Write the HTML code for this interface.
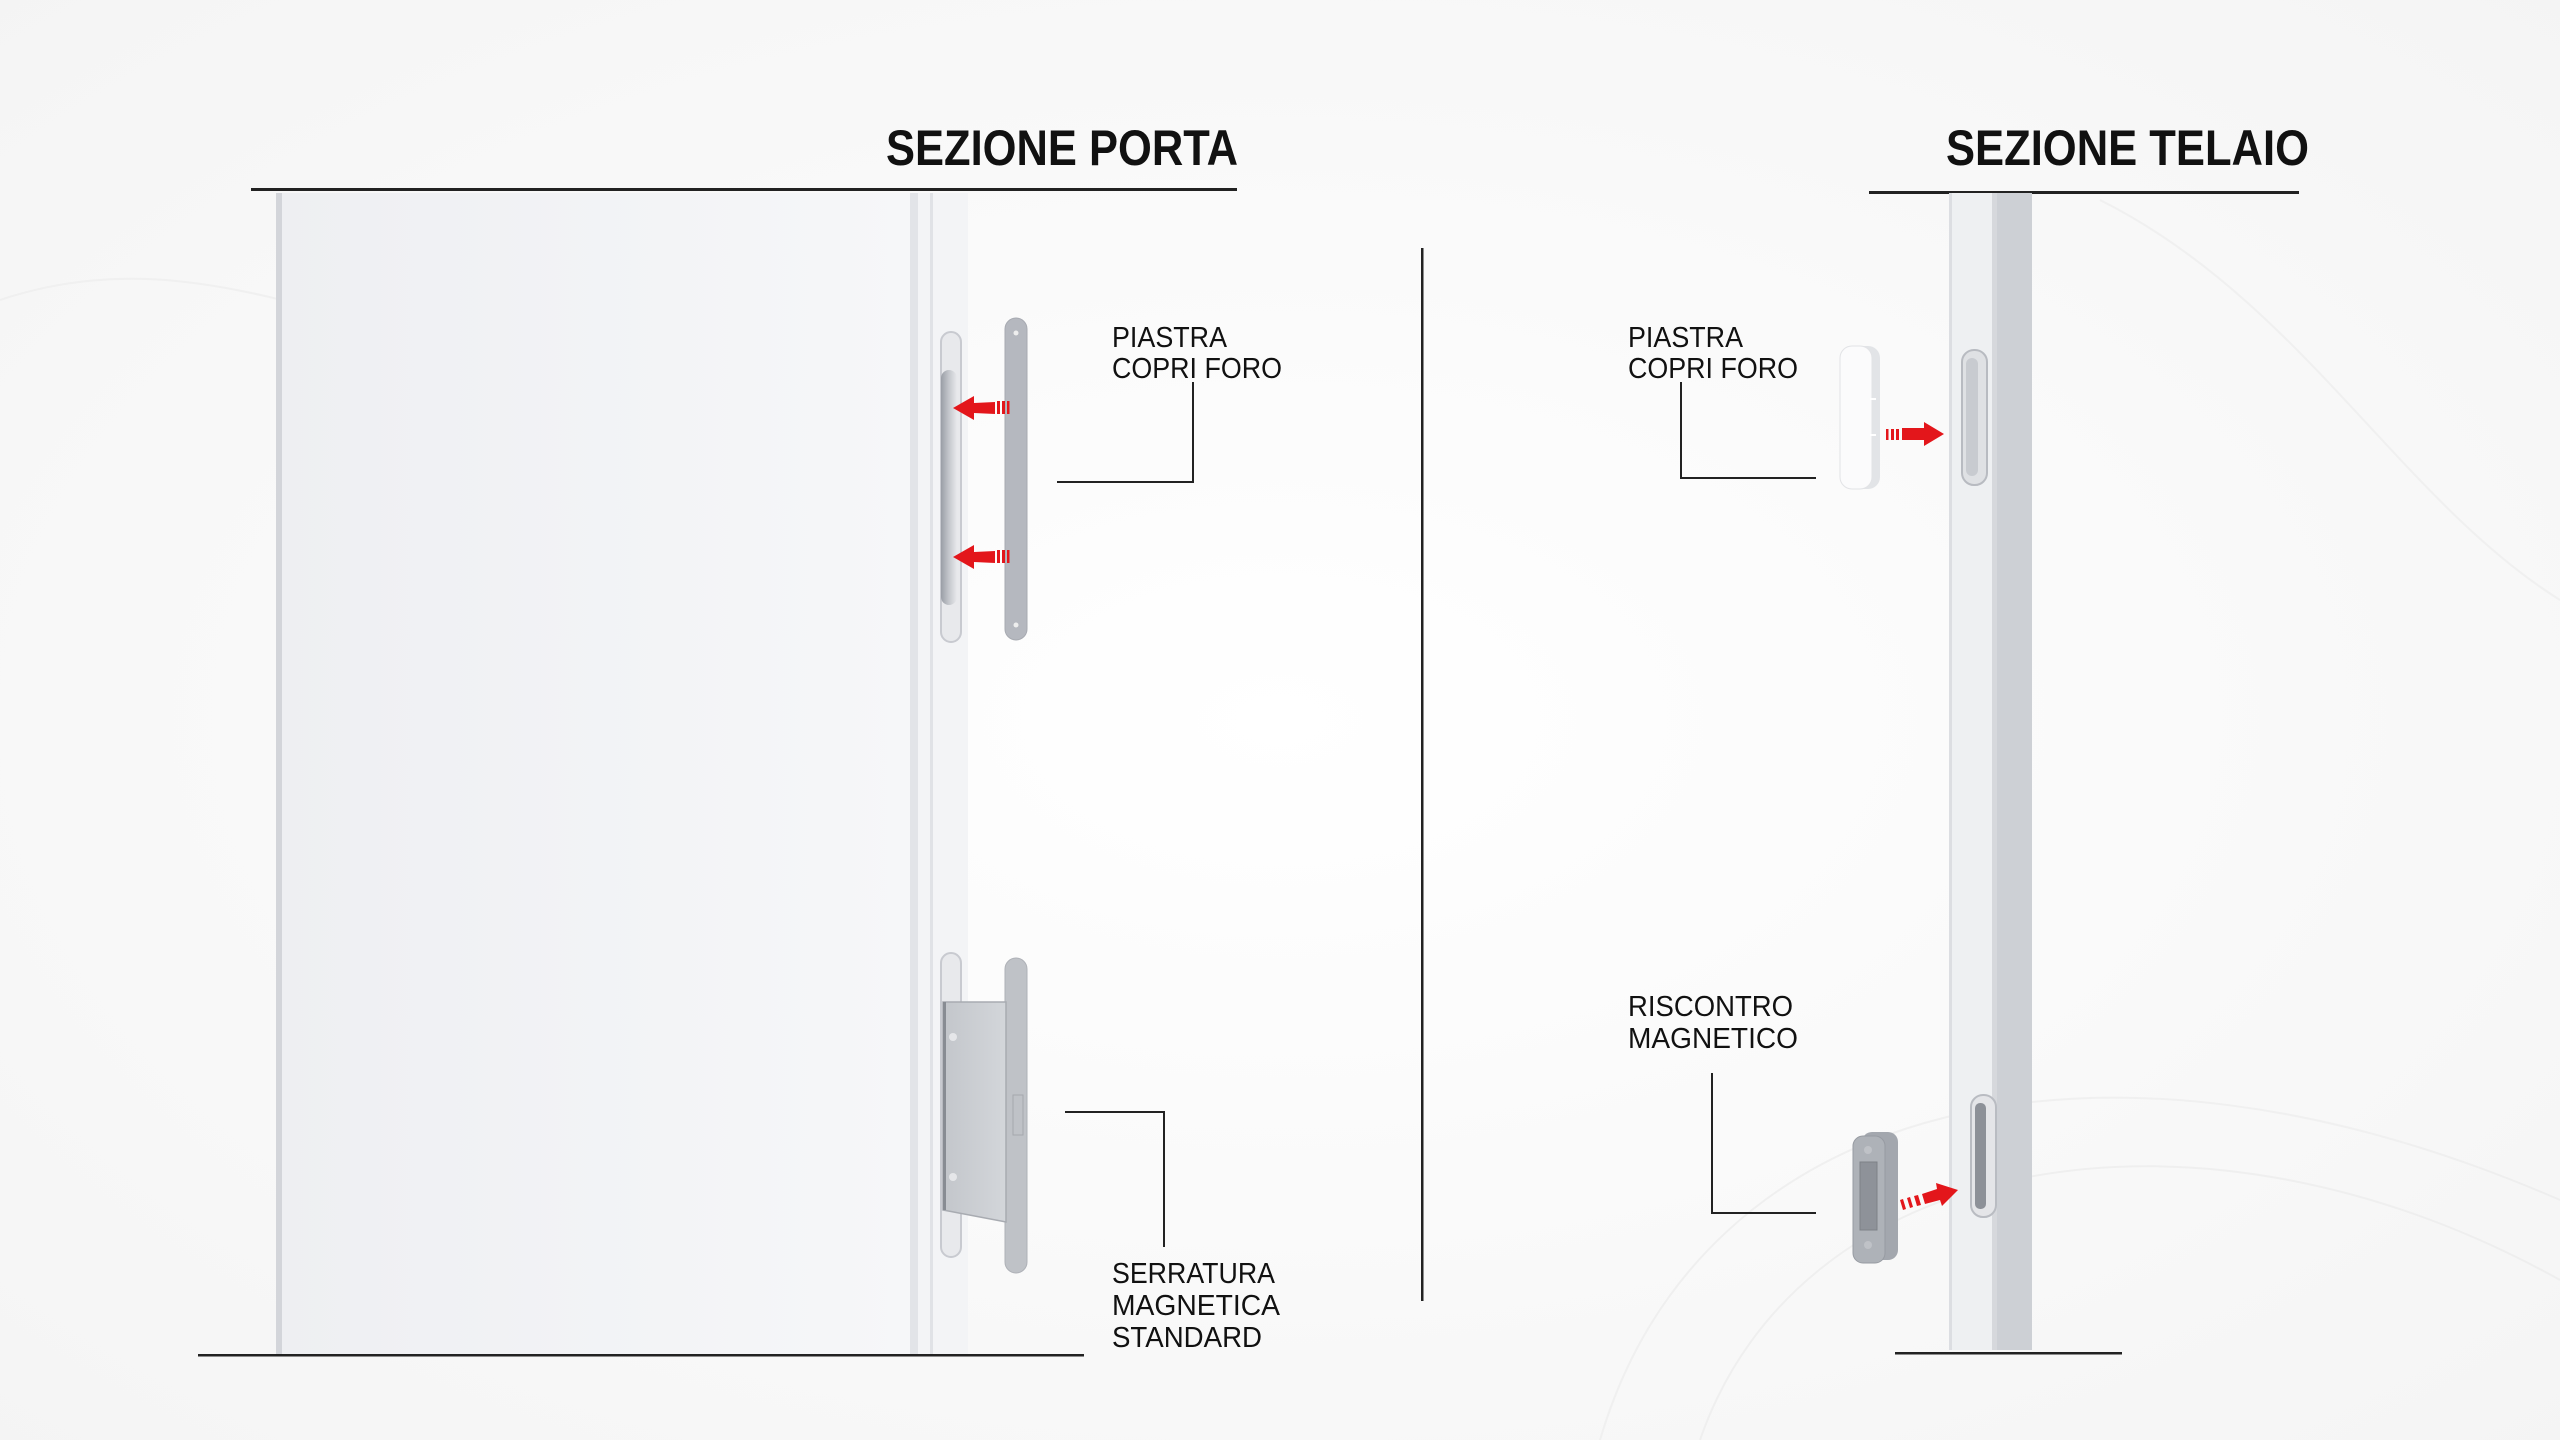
<!DOCTYPE html>
<html><head><meta charset="utf-8"><style>
html,body{margin:0;padding:0;background:#fafafa;}
svg{display:block}
text{font-family:"Liberation Sans",sans-serif;fill:#111;}
</style></head><body>
<svg width="2560" height="1440" viewBox="0 0 2560 1440" xmlns="http://www.w3.org/2000/svg">
<defs>
<radialGradient id="bg" cx="0.5" cy="0.5" r="0.8"><stop offset="0" stop-color="#ffffff"/><stop offset="1" stop-color="#f3f3f3"/></radialGradient>
<linearGradient id="door" x1="0" x2="1"><stop offset="0" stop-color="#eeeff2"/><stop offset="1" stop-color="#f6f7f9"/></linearGradient>
<linearGradient id="slotg" x1="0" x2="1"><stop offset="0" stop-color="#9a9ea6"/><stop offset="0.5" stop-color="#c4c7cc"/><stop offset="1" stop-color="#e8e9ec"/></linearGradient>
<linearGradient id="box" x1="0" x2="1"><stop offset="0" stop-color="#c3c6cb"/><stop offset="1" stop-color="#d3d6da"/></linearGradient>
</defs>
<rect width="2560" height="1440" fill="url(#bg)"/>
<g fill="none" stroke="#ececec" stroke-width="2" opacity="0.7">
<path d="M0 300 C300 200 500 500 800 250"/>
<path d="M1600 1440 C1700 1100 2100 1000 2560 1200"/>
<path d="M1700 1440 C1800 1150 2200 1080 2560 1280"/>
<path d="M2100 200 C2300 300 2400 500 2560 600"/>
</g>

<!-- Titles -->
<text x="886" y="165" font-size="50" font-weight="bold" textLength="352" lengthAdjust="spacingAndGlyphs">SEZIONE PORTA</text>
<text x="1946" y="165" font-size="50" font-weight="bold" textLength="363" lengthAdjust="spacingAndGlyphs">SEZIONE TELAIO</text>
<rect x="251" y="188" width="986" height="3" fill="#222"/>
<rect x="1869" y="191" width="430" height="3" fill="#222"/>

<!-- Door -->
<rect x="276" y="193" width="634" height="1162" fill="url(#door)"/>
<rect x="276" y="193" width="6" height="1162" fill="#d3d5da"/>
<rect x="910" y="193" width="58" height="1162" fill="#f3f4f6"/>
<rect x="910" y="193" width="8" height="1162" fill="#e2e4e8"/>
<rect x="930" y="193" width="3" height="1162" fill="#e0e2e6"/>
<rect x="198" y="1354" width="886" height="2.5" fill="#222"/>

<!-- Top slot door -->
<rect x="941" y="332" width="20" height="310" rx="10" fill="#e8e9ec" stroke="#c8cad0" stroke-width="2"/>
<rect x="941" y="370" width="16" height="235" rx="8" fill="url(#slotg)"/>
<rect x="1005" y="318" width="22" height="322" rx="11" fill="#b5b8bf" stroke="#a7aab1" stroke-width="1"/>
<circle cx="1016" cy="333" r="2.5" fill="#eee"/><circle cx="1016" cy="625" r="2.5" fill="#eee"/>
<g fill="#e3161b">
<polygon points="953,408 974,396 974,403 995,402 995,414 974,413 974,420"/>
<rect x="997" y="401" width="3" height="13"/><rect x="1002" y="401" width="3" height="13"/><rect x="1007" y="401" width="2.5" height="13"/>
<polygon points="953,557 974,545 974,552 995,551 995,563 974,562 974,569"/>
<rect x="997" y="550" width="3" height="13"/><rect x="1002" y="550" width="3" height="13"/><rect x="1007" y="550" width="2.5" height="13"/>
</g>
<text x="1112" y="347" font-size="29" textLength="115" lengthAdjust="spacingAndGlyphs">PIASTRA</text>
<text x="1112" y="378" font-size="29" textLength="170" lengthAdjust="spacingAndGlyphs">COPRI FORO</text>
<polyline points="1193,382 1193,482 1057,482" fill="none" stroke="#222" stroke-width="2"/>

<!-- Bottom lock door -->
<rect x="941" y="953" width="20" height="304" rx="10" fill="#e8e9ec" stroke="#c8cad0" stroke-width="2"/>
<rect x="1005" y="958" width="22" height="315" rx="11" fill="#bfc2c7" stroke="#aeb1b7" stroke-width="1"/>
<polygon points="943,1002 1006,1002 1006,1222 943,1210" fill="url(#box)" stroke="#a8abb1" stroke-width="1.5"/>
<rect x="943" y="1002" width="3" height="208" fill="#888c93"/>
<circle cx="953" cy="1037" r="4" fill="#e5e6e9"/><circle cx="953" cy="1177" r="4" fill="#e5e6e9"/>
<rect x="1013" y="1095" width="10" height="40" fill="none" stroke="#a5a8ae" stroke-width="1"/>
<polyline points="1065,1112 1164,1112 1164,1247" fill="none" stroke="#222" stroke-width="2"/>
<text x="1112" y="1283" font-size="29" textLength="163" lengthAdjust="spacingAndGlyphs">SERRATURA</text>
<text x="1112" y="1315" font-size="29" textLength="168" lengthAdjust="spacingAndGlyphs">MAGNETICA</text>
<text x="1112" y="1347" font-size="29" textLength="150" lengthAdjust="spacingAndGlyphs">STANDARD</text>

<!-- Divider -->
<rect x="1421" y="248" width="2.5" height="1053" fill="#222"/>

<!-- Frame -->
<rect x="1949" y="193" width="83" height="1157" fill="#eef0f2"/>
<rect x="1949" y="193" width="3" height="1157" fill="#dcdee2"/>
<rect x="1992" y="193" width="5" height="1157" fill="#d6d8dc"/>
<rect x="1997" y="193" width="35" height="1157" fill="#cdd0d5"/>
<rect x="1895" y="1352" width="227" height="2.5" fill="#222"/>

<!-- top slot frame -->
<rect x="1962" y="350" width="25" height="135" rx="12" fill="#dfe1e4" stroke="#b8bbc1" stroke-width="2"/>
<rect x="1966" y="358" width="12" height="118" rx="6" fill="#c8cbd0"/>
<!-- cap -->
<rect x="1840" y="346" width="40" height="143" rx="12" fill="#e2e4e7"/>
<rect x="1840" y="346" width="32" height="143" rx="12" fill="#fbfbfc" stroke="#e2e3e6" stroke-width="1"/>
<rect x="1870" y="398" width="6" height="2" fill="#fff"/><rect x="1870" y="434" width="6" height="2" fill="#fff"/>
<g fill="#e3161b">
<rect x="1886" y="429" width="2.5" height="11"/><rect x="1891" y="429" width="3" height="11"/><rect x="1896" y="429" width="3" height="11"/>
<polygon points="1902,428 1924,428 1924,422 1944,434 1924,446 1924,440 1902,440"/>
</g>
<text x="1628" y="347" font-size="29" textLength="115" lengthAdjust="spacingAndGlyphs">PIASTRA</text>
<text x="1628" y="378" font-size="29" textLength="170" lengthAdjust="spacingAndGlyphs">COPRI FORO</text>
<polyline points="1681,382 1681,478 1816,478" fill="none" stroke="#222" stroke-width="2"/>

<!-- bottom slot frame -->
<rect x="1971" y="1095" width="25" height="122" rx="12" fill="#e4e5e8" stroke="#b9bcc2" stroke-width="2"/>
<rect x="1975" y="1103" width="11" height="106" rx="5" fill="#8d9198"/>
<!-- magnet -->
<rect x="1862" y="1132" width="36" height="128" rx="10" fill="#a3a7ae"/>
<rect x="1853" y="1136" width="32" height="127" rx="10" fill="#aeb2b8" stroke="#979ba2" stroke-width="1"/>
<rect x="1860" y="1162" width="17" height="68" fill="#8e9299" stroke="#7d8188" stroke-width="1"/>
<circle cx="1868" cy="1150" r="4" fill="#bfc2c7"/><circle cx="1868" cy="1245" r="4" fill="#bfc2c7"/>
<g fill="#e3161b">
<polygon points="1900,1200 1903,1210 1906,1209 1903,1199"/>
<polygon points="1907,1198 1910,1208 1913,1207 1910,1197"/>
<polygon points="1914,1196 1917,1206 1921,1205 1918,1195"/>
<polygon points="1922,1194 1925,1204 1940,1200 1942,1206 1958,1190 1936,1183 1937,1189"/>
</g>
<text x="1628" y="1016" font-size="29" textLength="165" lengthAdjust="spacingAndGlyphs">RISCONTRO</text>
<text x="1628" y="1048" font-size="29" textLength="170" lengthAdjust="spacingAndGlyphs">MAGNETICO</text>
<polyline points="1712,1073 1712,1213 1816,1213" fill="none" stroke="#222" stroke-width="2"/>
</svg>
</body></html>
